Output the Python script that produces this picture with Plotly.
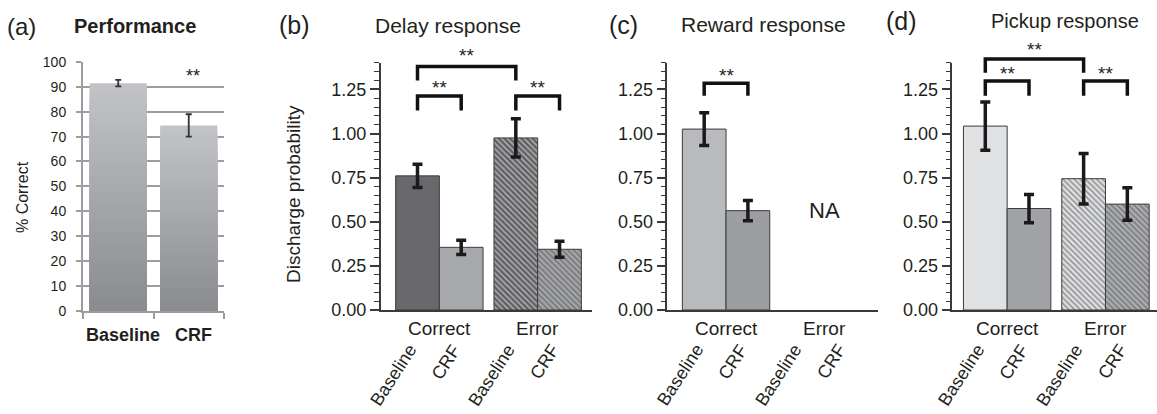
import numpy as np
import plotly.graph_objects as go

# ---------------- data ----------------
perf_categories = ["Baseline", "CRF"]
perf_values = [91.5, 74.5]
perf_errors = [1.3, 4.5]
perf_ticks = [0, 10, 20, 30, 40, 50, 60, 70, 80, 90, 100]

conditions = ["Baseline", "CRF", "Baseline", "CRF"]
groups = ["Correct", "Error"]
bar_positions = [0, 1, 2.25, 3.25]
group_centers = [0.5, 2.75]

delay_values = [0.76, 0.355, 0.975, 0.344]
delay_errors = [0.066, 0.040, 0.108, 0.045]

reward_values = [1.025, 0.563]
reward_errors = [0.093, 0.058]

pickup_values = [1.042, 0.575, 0.744, 0.600]
pickup_errors = [0.137, 0.080, 0.143, 0.092]

# significance brackets: (left bar, right bar, top, leg end, star y)
delay_brackets = [(0, 1, 1.213, 1.13, 1.262), (2, 3, 1.213, 1.13, 1.262), (0, 2, 1.38, 1.30, 1.44)]
reward_brackets = [(0, 1, 1.284, 1.214, 1.328)]
pickup_brackets = [(0, 1, 1.297, 1.214, 1.338), (2, 3, 1.297, 1.214, 1.338), (0, 2, 1.422, 1.344, 1.475)]

y_ticks = [0, 0.25, 0.5, 0.75, 1.0, 1.25]
y_minor = [0.05, 0.1, 0.15, 0.2, 0.3, 0.35, 0.4, 0.45, 0.55, 0.6, 0.65, 0.7,
           0.8, 0.85, 0.9, 0.95, 1.05, 1.1, 1.15, 1.2, 1.3, 1.35, 1.4]

# ---------------- styles ----------------
W, H = 1157, 414
FONT = "Liberation Sans, Arial, Helvetica, sans-serif"
TXT = "#231f20"
AX = "#3a3a3a"
GRID_A = "#9d9d9d"


def px(x):
    return x / W


def py(y):
    return 1 - y / H


fig = go.Figure()

# ---------- panel (a): gradient bars ----------
top_c = np.array([0xc3, 0xc4, 0xc8])
bot_c = np.array([0x8a, 0x8b, 0x8f])
N = 40
for cat, v in zip(perf_categories, perf_values):
    fr = np.arange(N, 0, -1) / N
    heights = [v * f for f in fr]
    cols = []
    for f in fr:
        c = bot_c + (top_c - bot_c) * (f - 0.5 / N)
        cols.append("rgb(%d,%d,%d)" % tuple(int(round(t)) for t in c))
    fig.add_trace(go.Bar(x=[cat] * N, y=heights, width=0.81,
                         marker=dict(color=cols, line=dict(width=0)),
                         xaxis="x", yaxis="y", showlegend=False, hoverinfo="skip"))
fig.add_trace(go.Scatter(x=perf_categories, y=perf_values, mode="markers",
                         marker=dict(size=1, color="rgba(0,0,0,0)"),
                         error_y=dict(type="data", array=perf_errors, color="#333333",
                                      thickness=1.8, width=3),
                         xaxis="x", yaxis="y", showlegend=False))
for cat in perf_categories:
    fig.add_annotation(x=cat, y=py(335), xref="x", yref="paper", text=cat,
                       showarrow=False, xanchor="center", yanchor="middle", xshift=5,
                       font=dict(family=FONT, size=18, color=TXT, weight="bold"))
fig.add_annotation(x=perf_categories[1], y=94.5, xref="x", yref="y", text="**",
                   showarrow=False, xanchor="center", yanchor="middle", xshift=4,
                   font=dict(family=FONT, size=18, color=TXT))

# ---------- panels (b)-(d) ----------
panels = [
    dict(vals=delay_values, errs=delay_errors, pos=bar_positions,
         colors=["#69696d", "#a7a8ac", "#5f5f63", "#a5a6aa"],
         shapes=["", "", "\\", "\\"], brackets=delay_brackets, ax="2", br="6"),
    dict(vals=reward_values, errs=reward_errors, pos=bar_positions[:2],
         colors=["#b9babd", "#9d9ea2"], shapes=["", ""],
         brackets=reward_brackets, ax="3", br="7"),
    dict(vals=pickup_values, errs=pickup_errors, pos=bar_positions,
         colors=["#e0e1e3", "#a1a2a6", "#e0e1e3", "#adaeb1"],
         shapes=["", "", "\\", "\\"], brackets=pickup_brackets, ax="4", br="8"),
]

for p in panels:
    fig.add_trace(go.Bar(
        x=p["pos"], y=p["vals"], width=1.0,
        marker=dict(color=p["colors"], line=dict(color="#3c3c3c", width=1),
                    pattern=dict(shape=p["shapes"], fgcolor="#1a1a1a", size=4, solidity=0.38)),
        error_y=dict(type="data", array=p["errs"], color="#1a1a1a", thickness=3.5, width=5),
        xaxis="x" + p["ax"], yaxis="y" + p["ax"], showlegend=False, hoverinfo="skip"))
    bx, by = [], []
    for (i, j, top, leg, sy) in p["brackets"]:
        x0, x1 = bar_positions[i], bar_positions[j]
        bx += [x0, x0, x1, x1, None]
        by += [leg, top, top, leg, None]
    fig.add_trace(go.Scatter(x=bx, y=by, mode="lines",
                             line=dict(color="#111111", width=3.5),
                             xaxis="x" + p["ax"], yaxis="y" + p["br"],
                             showlegend=False, hoverinfo="skip"))
    for (i, j, top, leg, sy) in p["brackets"]:
        fig.add_annotation(x=(bar_positions[i] + bar_positions[j]) / 2, y=sy,
                           xref="x" + p["ax"], yref="y" + p["br"], text="**",
                           showarrow=False, xanchor="center", yanchor="middle",
                           font=dict(family=FONT, size=19, color=TXT))
    for g, gc in zip(groups, group_centers):
        fig.add_annotation(x=gc, y=py(328), xref="x" + p["ax"], yref="paper", text=g,
                           showarrow=False, xanchor="center", yanchor="middle",
                           font=dict(family=FONT, size=19, color=TXT))
    # rotated condition labels under each bar slot
    for c, pos in zip(conditions, bar_positions):
        fig.add_annotation(x=pos, y=py(338), xref="x" + p["ax"], yref="paper", text=c,
                           showarrow=False, xanchor="right", yanchor="top",
                           textangle=-57, xshift=6,
                           font=dict(family=FONT, size=18, color=TXT))

fig.add_annotation(x=group_centers[1], y=reward_values[1], xref="x3", yref="y3", text="NA",
                   showarrow=False, xanchor="center",
                   font=dict(family=FONT, size=22, color=TXT))

# ---------- layout / axes ----------
layout = dict(
    width=W, height=H, margin=dict(l=0, r=0, t=0, b=0, pad=0, autoexpand=False),
    paper_bgcolor="white", plot_bgcolor="rgba(0,0,0,0)",
    barmode="overlay", showlegend=False,
    font=dict(family=FONT, color=TXT),
)

layout["xaxis"] = dict(domain=[px(83), px(224)], anchor="y", type="category",
                       categoryarray=perf_categories, categoryorder="array",
                       showline=True, linecolor=GRID_A, linewidth=2,
                       ticks="outside", tickson="boundaries", ticklen=6, tickwidth=2,
                       tickcolor=GRID_A, showgrid=False, showticklabels=False,
                       automargin=False, range=[-0.5, 1.5], fixedrange=True)
layout["yaxis"] = dict(domain=[py(310.7), py(62)], anchor="x", range=[0, 100],
                       tickvals=perf_ticks, showline=True, linecolor=GRID_A, linewidth=2,
                       ticks="outside", ticklen=5, tickwidth=2, tickcolor=GRID_A,
                       showgrid=True, gridcolor=GRID_A, gridwidth=2, zeroline=False,
                       automargin=False, ticklabelstandoff=7,
                       tickfont=dict(family=FONT, size=14, color=TXT))

UNIT = 43.7
SCALE = 176.5
x_geo = {"2": (380.7, 592.3, 417.5), "3": (667.3, 877.7, 704.2), "4": (952.3, 1157.0, 985.3)}
for k, (l, r, c0) in x_geo.items():
    x_lo = -(c0 - l) / UNIT
    x_hi = x_lo + (r - l) / UNIT
    layout["xaxis" + k] = dict(domain=[px(l), px(r)], anchor="y" + k, range=[x_lo, x_hi],
                               showline=True, linecolor=AX, linewidth=1.5, showgrid=False,
                               zeroline=False, showticklabels=False, ticks="",
                               automargin=False)
    layout["yaxis" + k] = dict(domain=[py(310), py(310 - 1.4 * SCALE)], anchor="x" + k,
                               range=[0, 1.4], showline=True, linecolor=AX, linewidth=1.5,
                               showgrid=False, zeroline=False, tickvals=y_ticks,
                               tickformat=".2f", ticks="outside", ticklen=9, tickwidth=1.5,
                               tickcolor=AX, automargin=False,
                               minor=dict(tickvals=y_minor, ticks="outside", ticklen=5,
                                          tickwidth=1.2, tickcolor=AX),
                               tickfont=dict(family=FONT, size=18, color=TXT))
for k, b in zip(["2", "3", "4"], ["6", "7", "8"]):
    layout["yaxis" + b] = dict(domain=[py(310), py(310 - 1.5 * SCALE)], anchor="x" + k,
                               range=[0, 1.5], visible=False, automargin=False)

fig.update_layout(**layout)

# ---------- titles ----------
titles = [
    ("(a)", 22, 26, 24, "normal"), ("Performance", 135, 26, 20, "bold"),
    ("(b)", 294.5, 25, 25, "normal"), ("Delay response", 448, 25, 21, "normal"),
    ("(c)", 623, 25, 25, "normal"), ("Reward response", 763, 24, 21, "normal"),
    ("(d)", 902, 21, 25, "normal"), ("Pickup response", 1065, 21, 20, "normal"),
]
for t, x, y, s, w in titles:
    fig.add_annotation(x=px(x), y=py(y), xref="paper", yref="paper", text=t,
                       showarrow=False, xanchor="center", yanchor="middle",
                       font=dict(family=FONT, size=s, color=TXT, weight=w))

fig.add_annotation(x=px(22), y=py(197), xref="paper", yref="paper", text="% Correct",
                   textangle=-90, showarrow=False, xanchor="center", yanchor="middle",
                   font=dict(family=FONT, size=16, color=TXT))
fig.add_annotation(x=px(293), y=py(194), xref="paper", yref="paper",
                   text="Discharge probability", textangle=-90, showarrow=False,
                   xanchor="center", yanchor="middle",
                   font=dict(family=FONT, size=19, color=TXT))

fig.write_html("out.html", config={"displayModeBar": False},
               post_script="document.body.style.margin='0px';"
                           "document.documentElement.style.overflow='hidden';")
